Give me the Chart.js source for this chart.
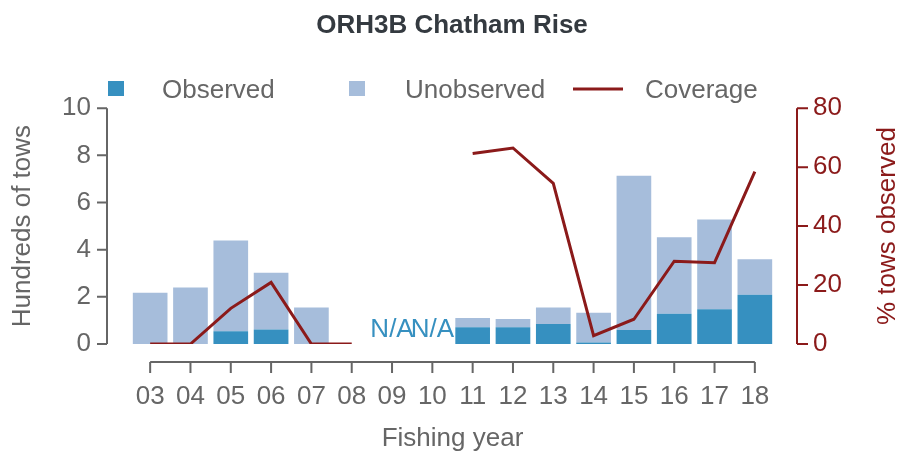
<!DOCTYPE html>
<html>
<head>
<meta charset="utf-8">
<script src="https://cdn.jsdelivr.net/npm/chart.js@4"></script>
<style>
  html, body { margin: 0; padding: 0; background: #fff; }
</style>
</head>
<body>
<canvas id="chart" width="904" height="451"></canvas>
<script>
const years = ['03', '04', '05', '06', '07', '08', '09', '10', '11', '12', '13', '14', '15', '16', '17', '18'];
const observed = [0, 0, 0.54, 0.62, 0, 0, null, null, 0.71, 0.71, 0.85, 0.06, 0.59, 1.28, 1.47, 2.09];
const unobserved = [2.17, 2.40, 3.85, 2.40, 1.55, 0, null, null, 0.39, 0.35, 0.70, 1.27, 6.54, 3.25, 3.81, 1.50];
const coverage = [0, 0, 12.1, 20.9, 0, 0, null, null, 64.6, 66.5, 54.5, 2.8, 8.4, 28.1, 27.6, 58.5];
const towTicks = [0, 2, 4, 6, 8, 10];
const pctTicks = [0, 20, 40, 60, 80];

const GREY = '#666666';
const RED = '#8b1a1a';
const FONT = '"Liberation Sans", Arial, sans-serif';

// R-style axes, drawn a little away from the plot area
const offsetAxes = {
  id: 'offsetAxes',
  afterDraw(chart) {
    const { ctx, chartArea, scales: { x, y, y2 } } = chart;
    const lx = chartArea.left - 23, rx = chartArea.right + 22, by = chartArea.bottom + 18;
    ctx.save();
    ctx.lineWidth = 2;

    ctx.strokeStyle = GREY;
    ctx.beginPath();
    ctx.moveTo(lx, y.getPixelForValue(towTicks[0]));
    ctx.lineTo(lx, y.getPixelForValue(towTicks[towTicks.length - 1]));
    towTicks.forEach(v => {
      const py = y.getPixelForValue(v);
      ctx.moveTo(lx, py); ctx.lineTo(lx - 10, py);
    });
    ctx.moveTo(x.getPixelForValue(0), by);
    ctx.lineTo(x.getPixelForValue(years.length - 1), by);
    years.forEach((_, i) => {
      const px = x.getPixelForValue(i);
      ctx.moveTo(px, by); ctx.lineTo(px, by + 11);
    });
    ctx.stroke();

    ctx.strokeStyle = RED;
    ctx.beginPath();
    ctx.moveTo(rx, y2.getPixelForValue(pctTicks[0]));
    ctx.lineTo(rx, y2.getPixelForValue(pctTicks[pctTicks.length - 1]));
    pctTicks.forEach(v => {
      const py = y2.getPixelForValue(v);
      ctx.moveTo(rx, py); ctx.lineTo(rx + 11, py);
    });
    ctx.stroke();

    // right axis title reads bottom to top, as on the left
    ctx.font = '26px ' + FONT;
    ctx.fillStyle = RED;
    ctx.textAlign = 'center';
    ctx.textBaseline = 'middle';
    ctx.translate(888, (chartArea.top + chartArea.bottom) / 2);
    ctx.rotate(-Math.PI / 2);
    ctx.fillText('% tows observed', 0, 0);
    ctx.setTransform(1, 0, 0, 1, 0, 0);

    // N/A where there is no data for the year
    ctx.fillStyle = '#3690c0';
    ctx.textBaseline = 'alphabetic';
    observed.forEach((v, i) => {
      if (v === null) ctx.fillText('N/A', x.getPixelForValue(i), y.getPixelForValue(0) - 7);
    });
    ctx.restore();
  }
};

// legend laid out like the original
const legendRow = {
  id: 'legendRow',
  afterDraw(chart) {
    const { ctx } = chart;
    const ly = 89;
    ctx.save();
    ctx.font = '26px ' + FONT;
    ctx.textBaseline = 'middle';
    ctx.textAlign = 'left';
    ctx.fillStyle = '#3690c0';
    ctx.fillRect(108, ly - 8, 16, 15);
    ctx.fillStyle = '#a6bddb';
    ctx.fillRect(349, ly - 8, 16, 15);
    ctx.strokeStyle = RED;
    ctx.lineWidth = 3;
    ctx.beginPath();
    ctx.moveTo(573, ly); ctx.lineTo(623, ly);
    ctx.stroke();
    ctx.fillStyle = GREY;
    ctx.fillText('Observed', 162, ly + 2);
    ctx.fillText('Unobserved', 405, ly + 2);
    ctx.fillText('Coverage', 645, ly + 2);
    ctx.restore();
  }
};

new Chart(document.getElementById('chart'), {
  type: 'bar',
  data: {
    labels: years,
    datasets: [
      {
        type: 'line',
        label: 'Coverage',
        data: coverage,
        yAxisID: 'y2',
        borderColor: RED,
        borderWidth: 3,
        pointRadius: 0,
        tension: 0,
        spanGaps: false,
        order: 0
      },
      {
        label: 'Observed',
        data: observed,
        backgroundColor: '#3690c0',
        categoryPercentage: 1,
        barPercentage: 0.86,
        order: 1
      },
      {
        label: 'Unobserved',
        data: unobserved,
        backgroundColor: '#a6bddb',
        categoryPercentage: 1,
        barPercentage: 0.86,
        order: 2
      }
    ]
  },
  options: {
    responsive: false,
    animation: false,
    layout: { padding: 0 },
    font: { family: FONT },
    plugins: {
      legend: { display: false },
      tooltip: { enabled: false },
      title: {
        display: true,
        text: 'ORH3B Chatham Rise',
        color: '#343a40',
        font: { family: FONT, size: 26, weight: 'bold' },
        padding: { top: 10, bottom: 67 }
      }
    },
    scales: {
      x: {
        stacked: true,
        offset: true,
        grid: { display: false, drawTicks: false },
        border: { display: false },
        ticks: { color: GREY, font: { family: FONT, size: 26 }, padding: 37, maxRotation: 0, autoSkip: false },
        title: { display: true, text: 'Fishing year', color: GREY, font: { family: FONT, size: 26 }, padding: { top: 0, bottom: -3 } },
        afterFit: s => { s.height = 107; }
      },
      y: {
        position: 'left',
        stacked: true,
        min: 0,
        max: 10,
        afterBuildTicks: s => { s.ticks = towTicks.map(v => ({ value: v })); },
        grid: { display: false, drawTicks: false },
        border: { display: false },
        ticks: { color: GREY, font: { family: FONT, size: 26 }, padding: 39 },
        title: { display: true, text: 'Hundreds of tows', color: GREY, font: { family: FONT, size: 26 }, padding: { top: 7, bottom: 0 } },
        afterFit: s => { s.width = 130; }
      },
      y2: {
        position: 'right',
        min: 0,
        max: 80,
        afterBuildTicks: s => { s.ticks = pctTicks.map(v => ({ value: v })); },
        grid: { display: false, drawTicks: false },
        border: { display: false },
        ticks: { color: RED, font: { family: FONT, size: 26 }, padding: 38 },
        title: { display: false },
        afterFit: s => { s.width = 129; }
      }
    }
  },
  plugins: [offsetAxes, legendRow]
});
</script>
</body>
</html>
